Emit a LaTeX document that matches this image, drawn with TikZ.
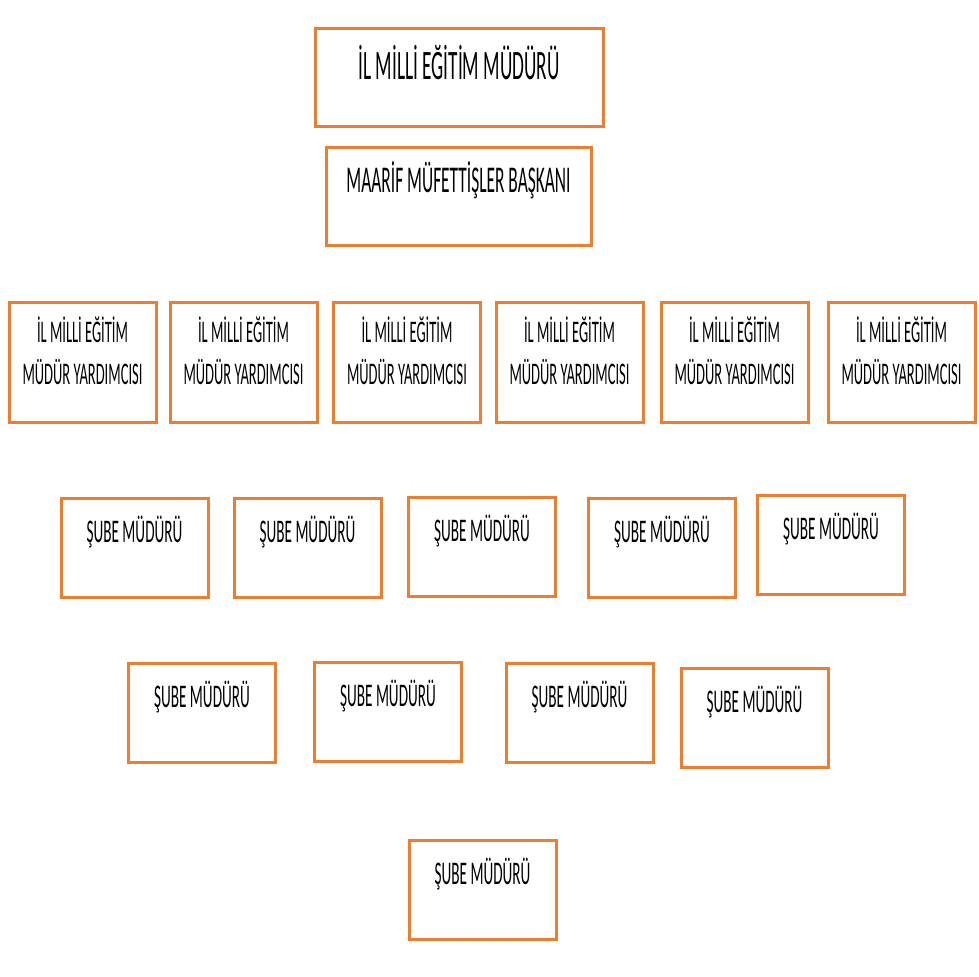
\documentclass[tikz,border=0pt]{standalone}
\usepackage{fontspec}
\newfontfamily\boxfont[FakeStretch=0.46]{Carlito}
\newlength\pxu
\setlength\pxu{0.025cm}
\definecolor{boxorange}{HTML}{ED7D31}

\begin{document}
\begin{tikzpicture}[x=0.025cm, y=-0.025cm,
    orgbox/.style={draw=boxorange, line width=3\pxu, inner sep=0pt, align=center,
        minimum width=147\pxu, text height=44\pxu, text depth=55\pxu,
        font=\boxfont\fontsize{23.5}{29}\selectfont},
    deputybox/.style={orgbox, text height=82\pxu, text depth=38\pxu,
        font=\boxfont\fontsize{22.4}{29.8}\selectfont}]
  \useasboundingbox (0,0) rectangle (979,977);

  % head of the directorate
  \node[orgbox, minimum width=288\pxu, text height=51\pxu, text depth=47\pxu,
        font=\boxfont\fontsize{29.8}{36}\selectfont] (mudur) at (459,78) {İL MİLLİ EĞİTİM MÜDÜRÜ};
  \node[orgbox, minimum width=265\pxu, text height=45\pxu, text depth=53\pxu,
        font=\boxfont\fontsize{26.9}{32}\selectfont] (maarif) at (458.5,197) {MAARİF MÜFETTİŞLER BAŞKANI};

  % deputies
  \foreach \x [count=\i] in {82.5,243.5,407,569.5,734.5,901.5}
    \node[deputybox] (yrd\i) at (\x,362.5) {İL MİLLİ EĞİTİM\\MÜDÜR YARDIMCISI};

  % branch managers
  \foreach \x/\y [count=\i] in {134.5/547.5,307.5/547.5,482/547,662/548,831/545,
      202/713,388/712,579.5/713,754.5/717.5,482.5/889.5}
    \node[orgbox] (sube\i) at (\x,\y) {ŞUBE MÜDÜRÜ};
\end{tikzpicture}
\end{document}
